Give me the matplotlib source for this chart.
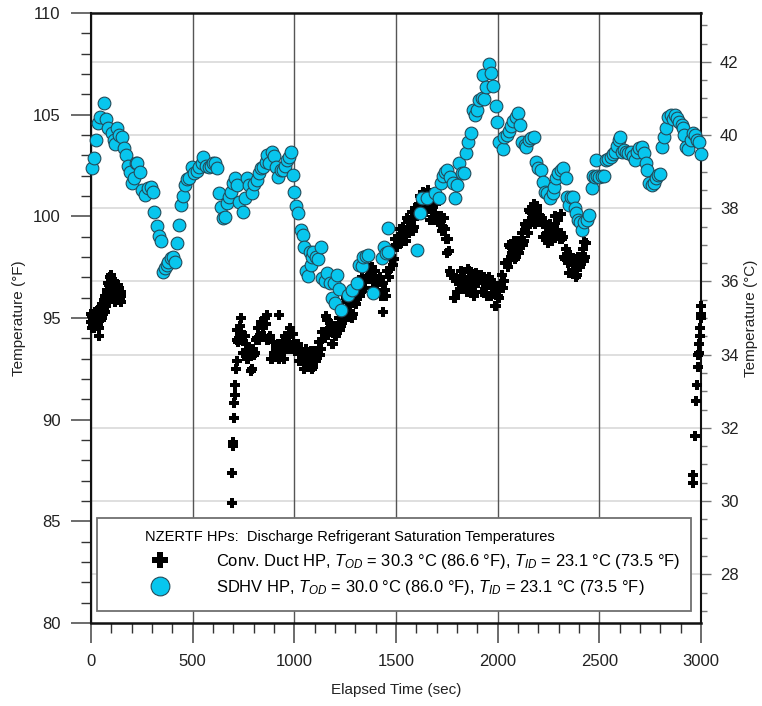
import numpy as np
import matplotlib
matplotlib.use('Agg')
import matplotlib.pyplot as plt
from matplotlib.patches import Rectangle
from matplotlib.lines import Line2D
from matplotlib.ticker import MultipleLocator

plt.rcParams['font.family'] = ['Liberation Sans', 'DejaVu Sans']
plt.rcParams['mathtext.fontset'] = 'custom'
plt.rcParams['mathtext.rm'] = 'Liberation Sans'
plt.rcParams['mathtext.it'] = 'Liberation Sans:italic'
plt.rcParams['mathtext.bf'] = 'Liberation Sans:bold'

# ---------------- data ----------------
# SDHV HP discharge saturation temperature (deg F)
sdhv_time = [3, 16, 25, 36, 45, 64, 74, 85, 102, 111, 118, 130, 140, 151, 162, 172, 180, 192, 200, 210,
             221, 228, 241, 249, 266, 279, 293, 303, 310, 323, 334, 346, 352, 364, 372, 380, 392, 405, 413, 424,
             434, 443, 451, 462, 471, 484, 495, 507, 520, 533, 545, 552, 566, 578, 589, 602, 610, 621, 630, 638,
             648, 659, 667, 680, 689, 700, 710, 720, 729, 746, 757, 769, 779, 790, 802, 815, 828, 834, 848, 859,
             867, 877, 889, 900, 910, 921, 933, 943, 954, 966, 975, 982, 992, 998, 1008, 1020, 1031, 1041, 1048, 1057,
             1069, 1077, 1080, 1085, 1093, 1108, 1118, 1130, 1134, 1150, 1159, 1176, 1184, 1195, 1200, 1211, 1221, 1228, 1266, 1282,
             1310, 1320, 1331, 1340, 1353, 1364, 1385, 1430, 1441, 1451, 1459, 1462, 1601, 1618, 1626, 1651, 1692, 1713, 1720, 1730,
             1741, 1749, 1766, 1779, 1790, 1798, 1811, 1823, 1834, 1844, 1856, 1867, 1877, 1889, 1900, 1910, 1921, 1929, 1933, 1943,
             1959, 1966, 1979, 1992, 1998, 2008, 2025, 2030, 2044, 2056, 2067, 2075, 2088, 2102, 2110, 2121, 2133, 2141, 2154, 2166,
             2177, 2189, 2200, 2211, 2221, 2234, 2241, 2257, 2270, 2277, 2287, 2298, 2310, 2323, 2336, 2343, 2353, 2359, 2369, 2380,
             2387, 2396, 2405, 2415, 2424, 2438, 2451, 2462, 2470, 2479, 2484, 2490, 2500, 2511, 2523, 2533, 2544, 2556, 2566, 2577,
             2588, 2598, 2602, 2610, 2621, 2631, 2643, 2654, 2664, 2675, 2684, 2697, 2708, 2720, 2730, 2736, 2746, 2757, 2769, 2779,
             2790, 2798, 2807, 2818, 2828, 2839, 2851, 2861, 2872, 2884, 2893, 2905, 2913, 2918, 2926, 2938, 2949, 2959, 2970, 2982,
             2992, 3000]
sdhv_temp_f = [102.36, 102.85, 103.75, 104.57, 104.9, 105.56, 104.77, 104.33, 104.1, 103.75, 103.57, 104.33, 104.0, 103.92, 103.35, 103.0, 102.47, 102.16, 101.62, 101.87,
               102.64, 102.6, 102.2, 101.3, 101.05, 101.38, 101.46, 101.2, 100.23, 99.52, 99.03, 98.8, 97.28, 97.44, 97.6, 97.74, 97.93, 98.01, 97.77, 98.67,
               99.57, 100.56, 101.0, 101.54, 101.82, 101.87, 102.44, 102.12, 102.24, 102.44, 102.64, 102.9, 102.5, 102.44, 102.5, 102.6, 102.6, 102.36, 101.13, 100.47,
               99.9, 99.95, 100.64, 100.93, 101.2, 101.62, 101.87, 101.54, 100.72, 100.23, 100.88, 101.87, 101.54, 101.13, 101.59, 101.8, 102.12, 102.36, 102.44, 102.69,
               103.02, 102.6, 103.18, 102.98, 102.44, 101.95, 102.28, 102.28, 102.5, 102.77, 102.9, 103.18, 102.03, 101.2, 100.5, 100.15, 99.33, 99.08, 98.51, 97.33,
               97.07, 98.26, 97.6, 98.02, 98.26, 97.98, 97.88, 98.48, 96.95, 96.8, 97.2, 96.74, 95.97, 96.74, 95.75, 97.11, 96.41, 95.39, 96.13, 96.38,
               96.7, 97.6, 97.54, 98.01, 98.03, 98.08, 96.21, 97.93, 98.5, 98.2, 99.41, 98.26, 98.34, 100.15, 100.89, 100.89, 101.13, 100.89, 101.66, 101.97,
               102.2, 102.3, 101.92, 101.62, 100.89, 101.56, 102.64, 102.12, 102.12, 103.13, 103.67, 104.08, 105.23, 104.99, 105.23, 105.72, 105.8, 106.95, 105.75, 106.35,
               107.48, 107.07, 106.41, 105.43, 104.66, 103.67, 103.29, 103.9, 104.0, 104.2, 104.45, 104.7, 104.9, 105.07, 104.5, 103.67, 103.5, 103.42, 103.75, 103.83,
               103.9, 102.69, 102.36, 102.3, 101.7, 101.2, 101.13, 100.89, 101.13, 101.46, 101.87, 102.12, 102.3, 102.36, 101.87, 100.97, 100.56, 100.93, 100.97, 100.4,
               100.15, 99.82, 99.74, 99.33, 99.74, 99.82, 100.07, 101.38, 101.97, 101.94, 102.77, 102.0, 101.95, 102.0, 102.0, 102.77, 102.8, 102.9, 103.05, 103.18,
               103.44, 103.75, 103.92, 103.18, 103.26, 103.18, 103.13, 103.18, 102.97, 102.77, 103.18, 103.35, 103.42, 103.1, 102.6, 102.28, 101.62, 101.54, 101.62, 101.87,
               102.03, 102.1, 103.43, 103.9, 104.33, 104.9, 104.97, 104.77, 104.97, 104.82, 104.66, 104.5, 104.33, 104.0, 103.43, 103.33, 103.75, 104.08, 104.0, 103.75,
               103.67, 103.06]

# Conventional duct HP discharge saturation temperature (deg F)
duct_start_time = np.arange(0, 152, 4)
duct_start_f = [94.8, 95.1, 94.6, 95.0, 94.5, 95.2, 94.7, 95.3, 94.6, 95.0, 94.1, 94.9, 95.4, 95.0, 95.6, 95.2, 95.8, 95.3, 96.0, 95.6,
                96.3, 95.8, 96.6, 96.1, 96.9, 97.1, 96.5, 96.0, 96.8, 96.2, 95.8, 96.5, 96.0, 96.6, 96.1, 96.3, 95.9, 96.1]
duct_start2_time = np.arange(2, 152, 4)
duct_start2_f = [95.2, 94.5, 95.0, 94.7, 95.3, 94.6, 95.1, 94.8, 95.4, 94.5, 95.0, 95.5, 94.9, 95.7, 95.3, 95.9, 95.4, 96.1, 95.7, 96.4,
                 96.0, 96.7, 96.3, 97.0, 96.6, 96.9, 96.3, 96.7, 96.0, 96.6, 96.2, 96.0, 96.4, 95.9, 96.5, 96.0, 96.3, 95.8]

duct_rise_time = [692, 695, 698, 700, 702, 704, 707, 710, 713, 716, 718]
duct_rise_f = [85.9, 87.4, 88.7, 88.9, 90.1, 90.8, 91.2, 91.7, 92.5, 92.9, 93.9]

duct_main_time = np.arange(720, 2431, 10)
duct_main_f = [94.4, 94.0, 94.3, 93.3, 93.7, 93.0, 93.4, 92.5, 93.2, 93.9,
               94.5, 94.1, 94.7, 94.1, 94.7, 93.9, 94.1, 93.0, 93.3, 93.5,
               93.7, 93.1, 93.5, 93.0, 94.0, 93.8, 94.5, 93.5, 93.7, 93.7,
               93.7, 92.9, 93.2, 92.5, 93.2, 92.8, 93.4, 92.6, 93.0, 93.4,
               93.8, 93.5, 94.3, 94.0, 94.9, 94.3, 94.7, 93.7, 94.2, 94.6,
               95.0, 94.6, 95.3, 94.9, 95.8, 95.3, 95.9, 95.2, 95.8, 96.2,
               96.7, 96.3, 96.9, 96.5, 97.4, 97.1, 97.5, 96.5, 96.8, 96.9,
               97.0, 96.1, 96.4, 96.1, 97.3, 97.4, 98.4, 97.9, 98.6, 99.0,
               99.4, 98.8, 99.3, 98.8, 99.7, 99.4, 100.2, 99.5, 100.1, 100.5,
               101.0, 100.5, 101.0, 100.2, 100.5, 99.8, 100.7, 100.0, 100.0, 99.9,
               100.0, 99.5, 99.4, 98.2, 98.3, 97.1, 97.1, 96.0, 96.3, 96.8,
               97.3, 96.5, 96.7, 96.3, 97.3, 96.6, 97.0, 96.3, 96.8, 97.1,
               97.1, 96.3, 96.9, 96.1, 96.7, 96.2, 96.7, 95.6, 96.1, 96.5,
               97.1, 96.8, 97.7, 97.5, 98.5, 98.2, 98.8, 98.0, 98.3, 98.7,
               99.2, 98.8, 99.5, 99.2, 100.2, 99.9, 100.6, 99.7, 100.0, 100.0,
               99.9, 99.0, 99.5, 98.7, 99.3, 99.0, 100.0, 99.2, 99.2, 99.2,
               99.0, 97.9, 98.0, 97.2, 97.8, 97.3, 97.9, 97.1, 97.6, 98.0,
               98.4, 98.0]
duct_main2_time = np.arange(725, 2436, 10)
duct_main2_f = [93.8, 94.6, 93.9, 94.1, 93.0, 93.2, 92.4, 93.5, 93.3, 94.0,
                93.9, 94.8, 94.5, 95.0, 93.9, 94.0, 93.0, 93.8, 93.1, 93.4,
                93.0, 93.7, 93.4, 94.1, 93.5, 94.2, 93.5, 94.2, 93.4, 93.5,
                92.9, 93.5, 93.0, 93.5, 92.6, 93.1, 92.5, 93.4, 92.9, 93.4,
                93.2, 94.3, 94.3, 95.1, 94.2, 94.5, 93.7, 94.6, 94.1, 94.6,
                94.4, 95.4, 95.2, 96.0, 95.2, 95.6, 95.0, 96.1, 95.7, 96.3,
                96.1, 97.0, 96.8, 97.6, 96.9, 97.3, 96.5, 97.3, 96.6, 96.8,
                96.1, 96.7, 96.4, 97.3, 97.0, 97.9, 97.6, 98.9, 98.5, 99.0,
                98.7, 99.5, 99.2, 99.9, 99.2, 99.8, 99.3, 100.4, 100.0, 100.6,
                100.3, 101.2, 100.7, 101.0, 99.8, 100.3, 99.8, 100.6, 99.7, 99.8,
                99.3, 99.9, 98.9, 98.9, 97.3, 97.1, 96.0, 96.8, 96.3, 96.9,
                96.5, 97.0, 96.6, 97.4, 96.6, 96.8, 96.1, 97.2, 96.7, 96.9,
                96.3, 97.0, 96.6, 97.0, 96.1, 96.5, 95.6, 96.5, 96.0, 96.6,
                96.5, 97.7, 97.7, 98.6, 98.0, 98.5, 97.9, 98.8, 98.2, 98.8,
                98.6, 99.6, 99.5, 100.3, 99.7, 100.3, 99.6, 100.5, 99.7, 99.8,
                99.0, 99.7, 99.2, 99.6, 98.8, 99.5, 99.1, 99.8, 98.9, 98.9,
                98.0, 98.4, 97.7, 98.1, 97.2, 97.6, 97.0, 98.0, 97.5, 98.0,
                97.8, 98.7]

duct_extra_time = [738, 864, 926, 1438, 1503, 1635, 1656, 2192, 2313, 2425]
duct_extra_f = [95.0, 95.15, 95.15, 95.3, 98.5, 101.2, 101.3, 100.3, 100.1, 98.75]

duct_end_time = [2962, 2963, 2970, 2975, 2980, 2983, 2987, 2990, 2992, 2995, 2997, 2998, 2999, 3000]
duct_end_f = [86.9, 87.3, 89.2, 90.9, 91.7, 92.6, 93.2, 93.3, 93.7, 94.1, 94.5, 95.2, 95.0, 95.6]

legend_title = "NZERTF HPs:  Discharge Refrigerant Saturation Temperatures"
duct_label = r"Conv. Duct HP, $T_{OD}$ = 30.3 °C (86.6 °F), $T_{ID}$ = 23.1 °C (73.5 °F)"
sdhv_label = r"SDHV HP, $T_{OD}$ = 30.0 °C (86.0 °F), $T_{ID}$ = 23.1 °C (73.5 °F)"

# ---------------- figure ----------------
CYAN = '#08C6EE'
EDGE = '#234B5A'
fig = plt.figure(figsize=(7.62, 7.06), dpi=100)
fig.patch.set_facecolor('white')
ax1 = fig.add_axes([0.11942, 0.11756, 0.80052, 0.86402])
ax2 = ax1.twinx()
ax1.set_zorder(ax2.get_zorder() + 1)
ax1.patch.set_visible(False)
ax2.patch.set_visible(True)
ax2.patch.set_facecolor('white')

ax1.set_xlim(0, 3000)
ax1.set_ylim(80, 110)
ax2.set_ylim((80 - 32) / 1.8, (110 - 32) / 1.8)

# duct pluses
duct_t = np.concatenate([duct_start_time, duct_start2_time, duct_rise_time, duct_main_time,
                         duct_main2_time, duct_extra_time, duct_end_time])
duct_f = np.concatenate([duct_start_f, duct_start2_f, duct_rise_f, duct_main_f,
                         duct_main2_f, duct_extra_f, duct_end_f])
ax1.scatter(duct_t, duct_f, marker='P', s=62, color='black', linewidths=0, zorder=3, clip_on=False)
ax1.scatter(sdhv_time, sdhv_temp_f, marker='o', s=84, facecolor=CYAN, edgecolor=EDGE, linewidths=0.8,
            zorder=4, clip_on=False)

# ticks & grid
ax1.xaxis.set_major_locator(MultipleLocator(500))
ax1.xaxis.set_minor_locator(MultipleLocator(100))
ax1.yaxis.set_major_locator(MultipleLocator(5))
ax1.yaxis.set_minor_locator(MultipleLocator(1))
ax2.yaxis.set_major_locator(MultipleLocator(2))
ax2.yaxis.set_minor_locator(MultipleLocator(0.5))

ax1.tick_params(axis='both', which='major', direction='out', length=14.4, width=1.1, color='#444444',
                labelsize=12, labelcolor='#222222')
ax1.tick_params(axis='x', which='major', pad=8)
ax1.tick_params(axis='y', which='major', pad=7.5)
ax1.tick_params(axis='both', which='minor', direction='out', length=7.2, width=1.0, color='#333333')
ax1.tick_params(top=False, right=False, which='both')
ax2.tick_params(axis='y', which='major', direction='out', length=7.2, width=1.0, color='#777777',
                labelsize=12, labelcolor='#222222', pad=6.5)
ax2.tick_params(axis='y', which='minor', direction='out', length=4.3, width=1.0, color='#777777')

ax1.set_axisbelow(True)
ax1.grid(axis='x', which='major', color='#555555', linewidth=1.0)
ax2.grid(axis='y', which='major', color='#d9d9d9', linewidth=1.2)

for sp in ['top', 'bottom']:
    ax1.spines[sp].set_linewidth(1.8)
for sp in ['left', 'right']:
    ax1.spines[sp].set_linewidth(1.5)
for sp in ax1.spines.values():
    sp.set_color('#111111')
for sp in ax2.spines.values():
    sp.set_visible(False)

ax1.set_xlabel('Elapsed Time (sec)', fontsize=11, color='#222222')
ax1.set_ylabel('Temperature (°F)', fontsize=11, color='#222222')
ax2.set_ylabel('Temperature (°C)', fontsize=11, color='#222222')
ax1.xaxis.set_label_coords(0.5, -0.098)
ax1.yaxis.set_label_coords(-0.106, 0.5)
ax2.yaxis.set_label_coords(1.071, 0.5)

# legend frame
frame = Rectangle((0.0098, 0.0189), 0.9738, 0.1533, transform=ax1.transAxes, facecolor='white',
                  edgecolor='#707070', linewidth=1.3, zorder=6, clip_on=False)
ax1.add_patch(frame)
h1 = Line2D([], [], ls='none', marker='P', color='black', markersize=7.6, markeredgewidth=0)
h2 = Line2D([], [], ls='none', marker='o', markerfacecolor=CYAN, markeredgecolor=EDGE,
            markersize=9, markeredgewidth=0.8)
leg = ax1.legend([h1, h2], [duct_label, sdhv_label], title=legend_title, loc='upper left',
                 bbox_to_anchor=(0.0885, 0.152), frameon=False, prop={'size': 11.9},
                 title_fontsize=10.5, markerscale=1.5, handlelength=1.8, handletextpad=2.5,
                 labelspacing=0.45, borderpad=0, borderaxespad=0, alignment='left')
leg.set_zorder(7)

fig.savefig('out.png', dpi=100, facecolor='white')
